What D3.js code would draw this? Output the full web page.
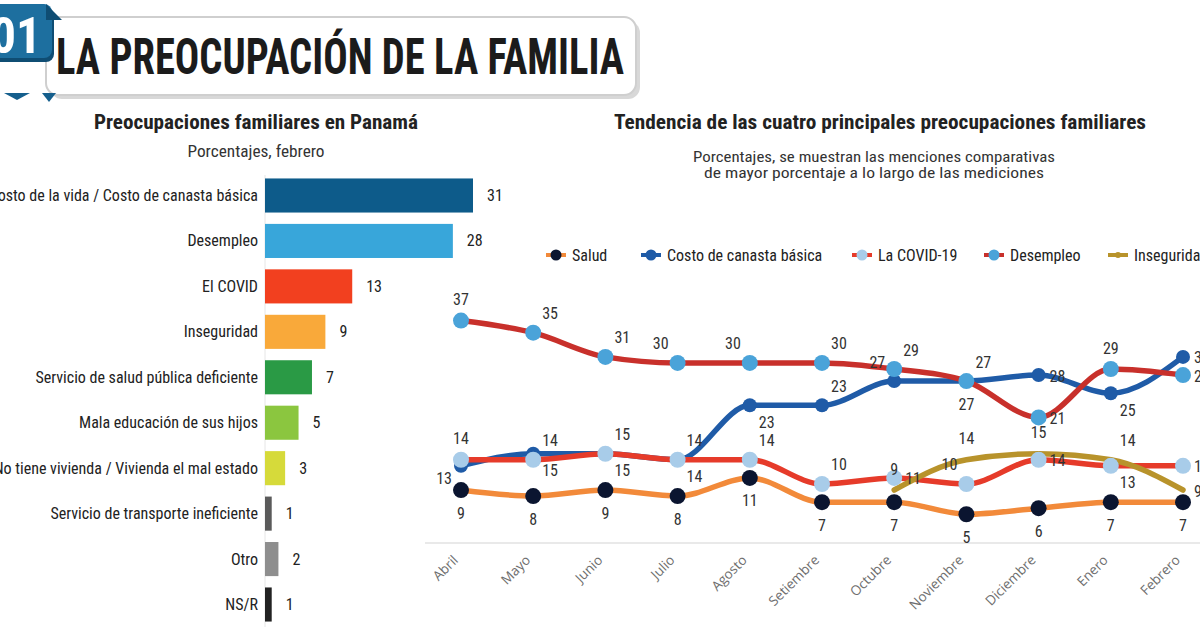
<!DOCTYPE html>
<html>
<head>
<meta charset="utf-8">
<script src="https://cdn.jsdelivr.net/npm/d3@7"></script>
<style>
  html,body{margin:0;padding:0;background:#fff;}
  svg{display:block;}
  text{font-family:'Liberation Sans Narrow','Roboto Condensed','DejaVu Sans Condensed','Noto Sans',sans-serif;font-stretch:condensed;}
  text.xlab{font-family:'Open Sans','Noto Sans',sans-serif;font-stretch:normal;}
</style>
</head>
<body>
<svg id="chart" width="1200" height="630"></svg>
<script>
// ---------- DATA ----------
const barCategories = [
  "El costo de la vida / Costo de canasta básica",
  "Desempleo",
  "El COVID",
  "Inseguridad",
  "Servicio de salud pública deficiente",
  "Mala educación de sus hijos",
  "No tiene vivienda / Vivienda el mal estado",
  "Servicio de transporte ineficiente",
  "Otro",
  "NS/R"
];
const barValues = [31, 28, 13, 9, 7, 5, 3, 1, 2, 1];
const barColors = ["#0d5b8a","#38a6da","#f2401f","#f9a93a","#2a9a45","#8bc63f","#d6da3a","#5a5a5a","#8e8e8e","#222222"];

const months = ["Abril","Mayo","Junio","Julio","Agosto","Setiembre","Octubre","Noviembre","Diciembre","Enero","Febrero"];
const salud       = [9, 8, 9, 8, 11, 7, 7, 5, 6, 7, 7];
const costo       = [13, 15, 15, 14, 23, 23, 27, 27, 28, 25, 31];
const covid       = [14, 14, 15, 14, 14, 10, 11, 10, 14, 13, 13];
const desempleo   = [37, 35, 31, 30, 30, 30, 29, 27, 21, 29, 28];
const inseguridad = [null, null, null, null, null, null, 9, 14, 15, 14, 9];

// label placement (compass direction relative to the point)
const saludLbl   = ["s","s","s","s","s","s","s","s","s","s","s"];
const costoLbl   = ["sw","se","se","se","se","ne","nw","s","e","se","e"];
const covidLbl   = ["n","ne","ne","ne","ne","ne","e","nw","e","se","e"];
const desempLbl  = ["n","ne","ne","nw","nw","ne","ne","ne","e","n","e"];
const insegLbl   = [null,null,null,null,null,null,"n","n","n","ne","e"];

const series = [
  {name:"Salud", values:salud, line:"#f28a3a", dot:"#0b1530", lbl:saludLbl, r:8},
  {name:"Costo de canasta básica", values:costo, line:"#1f5ba7", dot:"#1f5ba7", lbl:costoLbl, r:7},
  {name:"La COVID-19", values:covid, line:"#e63b2a", dot:"#a8cce9", lbl:covidLbl, r:8},
  {name:"Desempleo", values:desempleo, line:"#c8302b", dot:"#4aa3d9", lbl:desempLbl, r:8},
  {name:"Inseguridad", values:inseguridad, line:"#b8932b", dot:"#b8932b", lbl:insegLbl, r:0}
];

// ---------- SETUP ----------
const svg = d3.select("#chart");

// ---------- HEADER ----------
const hdr = svg.append("g");
hdr.append("rect").attr("x",50).attr("y",21).attr("width",590).attr("height",78).attr("rx",12).attr("fill","#d8d8d8");
hdr.append("rect").attr("x",46).attr("y",17).attr("width",590).attr("height",78).attr("rx",12)
  .attr("fill","#fff").attr("stroke","#cfcfcf").attr("stroke-width",2);
hdr.append("rect").attr("x",-12).attr("y",8).attr("width",66).attr("height",54).attr("rx",8).attr("fill","#0f4d73");
hdr.append("rect").attr("x",-14).attr("y",4).attr("width",66).attr("height",54).attr("rx",8).attr("fill","#1d6f9f");
hdr.append("polygon").attr("points","46,4 62,20 46,20").attr("fill","#0f4d73");
hdr.append("text").attr("x",16).attr("y",53).attr("text-anchor","middle")
  .attr("font-size",50).attr("font-weight","bold").attr("fill","#fff").text("01");
hdr.append("polygon").attr("points","4,93 30,93 17,100").attr("fill","#155f8d");
hdr.append("polygon").attr("points","42,93 56,93 49,102").attr("fill","#155f8d");
hdr.append("text").attr("x",56).attr("y",74).attr("font-size",50).attr("font-weight","bold")
  .attr("fill","#1b1b1b").attr("textLength",568).attr("lengthAdjust","spacingAndGlyphs")
  .text("LA PREOCUPACIÓN DE LA FAMILIA");

// ---------- BAR CHART ----------
const bx = d3.scaleLinear().domain([0, 31]).range([265, 473]);
const by = d3.scaleBand().domain(barCategories).range([173, 627]).paddingInner(0.25).paddingOuter(0.12);

svg.append("text").attr("x",256).attr("y",129).attr("text-anchor","middle")
  .attr("font-size",20).attr("font-weight","bold").attr("fill","#222")
  .attr("textLength",324).attr("lengthAdjust","spacingAndGlyphs")
  .text("Preocupaciones familiares en Panamá");
svg.append("text").attr("x",256).attr("y",157).attr("text-anchor","middle")
  .attr("font-size",16).attr("fill","#333")
  .attr("textLength",137).attr("lengthAdjust","spacingAndGlyphs")
  .text("Porcentajes, febrero");

svg.append("line").attr("x1",265).attr("x2",265).attr("y1",175).attr("y2",627)
  .attr("stroke","#e6e6e6").attr("stroke-width",1);

const bg = svg.append("g");
bg.selectAll("rect").data(barValues).join("rect")
  .attr("x", bx(0))
  .attr("y", (d,i)=>by(barCategories[i]))
  .attr("width", d=>bx(d)-bx(0))
  .attr("height", by.bandwidth())
  .attr("fill", (d,i)=>barColors[i]);
bg.selectAll("text.cat").data(barCategories).join("text").attr("class","cat")
  .attr("x", 258).attr("y", d=>by(d)+by.bandwidth()/2)
  .attr("text-anchor","end").attr("dominant-baseline","central")
  .attr("font-size",16).attr("fill","#222").text(d=>d);
bg.selectAll("text.val").data(barValues).join("text").attr("class","val")
  .attr("x", d=>bx(d)+14).attr("y", (d,i)=>by(barCategories[i])+by.bandwidth()/2)
  .attr("dominant-baseline","central")
  .attr("font-size",16).attr("fill","#222").text(d=>d);

// ---------- LINE CHART ----------
svg.append("text").attr("x",880).attr("y",129).attr("text-anchor","middle")
  .attr("font-size",20).attr("font-weight","bold").attr("fill","#222")
  .attr("textLength",532).attr("lengthAdjust","spacingAndGlyphs")
  .text("Tendencia de las cuatro principales preocupaciones familiares");
svg.append("text").attr("x",874).attr("y",162).attr("text-anchor","middle")
  .attr("font-size",15).attr("fill","#333")
  .attr("textLength",362).attr("lengthAdjust","spacingAndGlyphs")
  .text("Porcentajes, se muestran las menciones comparativas");
svg.append("text").attr("x",874).attr("y",178).attr("text-anchor","middle")
  .attr("font-size",15).attr("fill","#333")
  .attr("textLength",340).attr("lengthAdjust","spacingAndGlyphs")
  .text("de mayor porcentaje a lo largo de las mediciones");

const x = d3.scalePoint().domain(months).range([461, 1183]);
const y = d3.scaleLinear().domain([0, 37]).range([544.5, 320.6]);

// baseline
svg.append("line").attr("x1",425).attr("x2",1200).attr("y1",543).attr("y2",543)
  .attr("stroke","#e2e2e2").attr("stroke-width",1.5);

// x labels
svg.append("g").selectAll("text").data(months).join("text").attr("class","xlab")
  .attr("transform", d=>`translate(${x(d)-2},561) rotate(-45)`)
  .attr("text-anchor","end").attr("font-size",13.5)
  .attr("fill","#6e6e6e").text(d=>d);

// legend
const legX = [546, 641, 852, 984, 1108];
const leg = svg.append("g");
series.forEach((s,i)=>{
  const g = leg.append("g").attr("transform",`translate(${legX[i]},255)`);
  g.append("line").attr("x1",0).attr("x2",20).attr("stroke",s.line).attr("stroke-width",4);
  g.append("circle").attr("cx",10).attr("r", s.r ? 5.5 : 3).attr("fill",s.dot);
  g.append("text").attr("x",26).attr("dominant-baseline","central")
    .attr("font-size",16).attr("fill","#222").text(s.name);
});

const lineGen = d3.line()
  .defined(d=>d.v!=null)
  .x(d=>x(d.m)).y(d=>y(d.v))
  .curve(d3.curveMonotoneX);

const drawOrder = [0,1,2,3,4];
const lg = svg.append("g");
drawOrder.forEach(k=>{
  const s = series[k];
  const pts = months.map((m,i)=>({m, v:s.values[i]}));
  lg.append("path").datum(pts.filter(p=>p.v!=null))
    .attr("d", lineGen).attr("fill","none")
    .attr("stroke", s.line).attr("stroke-width",5.5).attr("stroke-linecap","round");
});
drawOrder.forEach(k=>{
  const s = series[k];
  if(!s.r) return;
  const pts = months.map((m,i)=>({m, v:s.values[i]})).filter(p=>p.v!=null);
  lg.append("g").selectAll("circle").data(pts).join("circle")
    .attr("cx", d=>x(d.m)).attr("cy", d=>y(d.v)).attr("r", s.r)
    .attr("fill", s.dot);
});

// labels
const off = {
  n:[0,-21,"middle"], s:[0,23,"middle"], e:[11,1,"start"],
  ne:[9,-19,"start"], nw:[-9,-19,"end"], se:[9,17,"start"], sw:[-9,13,"end"]
};
series.forEach(s=>{
  const pts = months.map((m,i)=>({m, v:s.values[i], p:s.lbl[i]})).filter(p=>p.v!=null && p.p);
  svg.append("g").selectAll("text").data(pts).join("text")
    .attr("x", d=>x(d.m)+off[d.p][0])
    .attr("y", d=>y(d.v)+off[d.p][1])
    .attr("text-anchor", d=>off[d.p][2])
    .attr("dominant-baseline","central")
    .attr("font-size",16).attr("fill","#333").text(d=>d.v);
});
</script>
</body>
</html>
